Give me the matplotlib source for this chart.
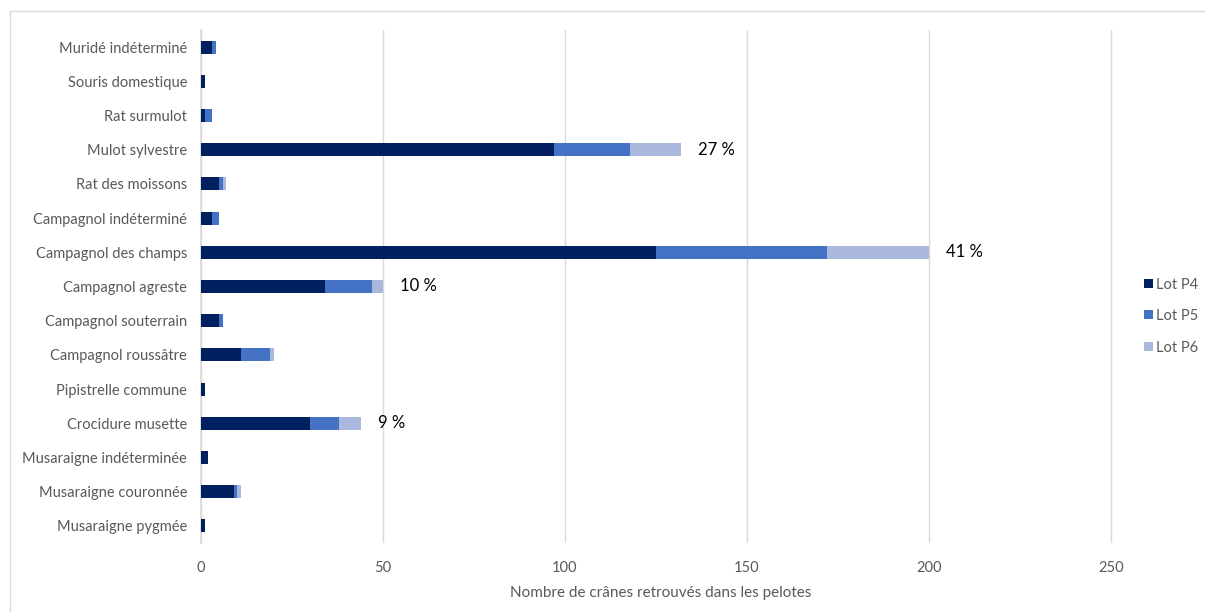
import matplotlib.pyplot as plt
from matplotlib.lines import Line2D
import numpy as np

plt.rcParams['font.family'] = ['Lato', 'DejaVu Sans']

# categories from bottom to top
species = ["Musaraigne pygmée", "Musaraigne couronnée", "Musaraigne indéterminée",
           "Crocidure musette", "Pipistrelle commune", "Campagnol roussâtre",
           "Campagnol souterrain", "Campagnol agreste", "Campagnol des champs",
           "Campagnol indéterminé", "Rat des moissons", "Mulot sylvestre",
           "Rat surmulot", "Souris domestique", "Muridé indéterminé"]
lot_p4 = [1, 9, 2, 30, 1, 11, 5, 34, 125, 3, 5, 97, 1, 1, 3]
lot_p5 = [0, 1, 0, 8, 0, 8, 1, 13, 47, 2, 1, 21, 2, 0, 1]
lot_p6 = [0, 1, 0, 6, 0, 1, 0, 3, 28, 0, 1, 14, 0, 0, 0]
pct_labels = {"Mulot sylvestre": "27 %", "Campagnol des champs": "41 %",
              "Campagnol agreste": "10 %", "Crocidure musette": "9 %"}

colors = ["#002060", "#4472C4", "#A9B8DC"]

fig = plt.figure(figsize=(12.05, 6.12), dpi=100)
ax = fig.add_axes([201 / 1205, 1 - 543 / 612, 919 / 1205, 513 / 612])

y = np.arange(len(species))
p4 = np.array(lot_p4)
p5 = np.array(lot_p5)
p6 = np.array(lot_p6)
h = 0.38
ax.barh(y, p4, height=h, color=colors[0], label="Lot P4", zorder=3)
ax.barh(y, p5, left=p4, height=h, color=colors[1], label="Lot P5", zorder=3)
ax.barh(y, p6, left=p4 + p5, height=h, color=colors[2], label="Lot P6", zorder=3)

totals = p4 + p5 + p6
for i, name in enumerate(species):
    if name in pct_labels:
        ax.annotate(pct_labels[name], (totals[i], i), xytext=(12, 0),
                    textcoords="offset points", va="center", ha="left",
                    fontsize=12, color="black")

ax.set_xlim(0, 252.5)
ax.set_ylim(-0.5, len(species) - 0.5)
ax.set_xticks([0, 50, 100, 150, 200, 250])
ax.set_yticks(y)
ax.set_yticklabels(species)
ax.tick_params(axis="both", length=0, labelsize=10.5, labelcolor="#595959")
ax.tick_params(axis="x", pad=13)
ax.tick_params(axis="y", pad=10)
ax.grid(axis="x", color="#D9D9D9", linewidth=1, zorder=0)
for s in ["top", "right", "bottom"]:
    ax.spines[s].set_visible(False)
ax.spines["left"].set_color("#D9D9D9")
ax.spines["left"].set_linewidth(1.2)
ax.set_xlabel("Nombre de crânes retrouvés dans les pelotes", fontsize=11,
              color="#595959", labelpad=8)

handles, labels = ax.get_legend_handles_labels()
fig.legend(handles, labels, loc="center left", bbox_to_anchor=(1138 / 1205, 1 - 316 / 612),
           frameon=False, fontsize=10.5, labelcolor="#595959", handlelength=0.6,
           handleheight=0.6, handletextpad=0.25, labelspacing=1.2,
           borderpad=0.2, borderaxespad=0.2)

# outer chart border
fig.add_artist(Line2D([10 / 1205, 1], [1 - 11 / 612, 1 - 11 / 612],
                      color="#D9D9D9", linewidth=1))
fig.add_artist(Line2D([10 / 1205, 10 / 1205], [0, 1 - 11 / 612],
                      color="#D9D9D9", linewidth=1))

plt.savefig("out.png", dpi=100)
